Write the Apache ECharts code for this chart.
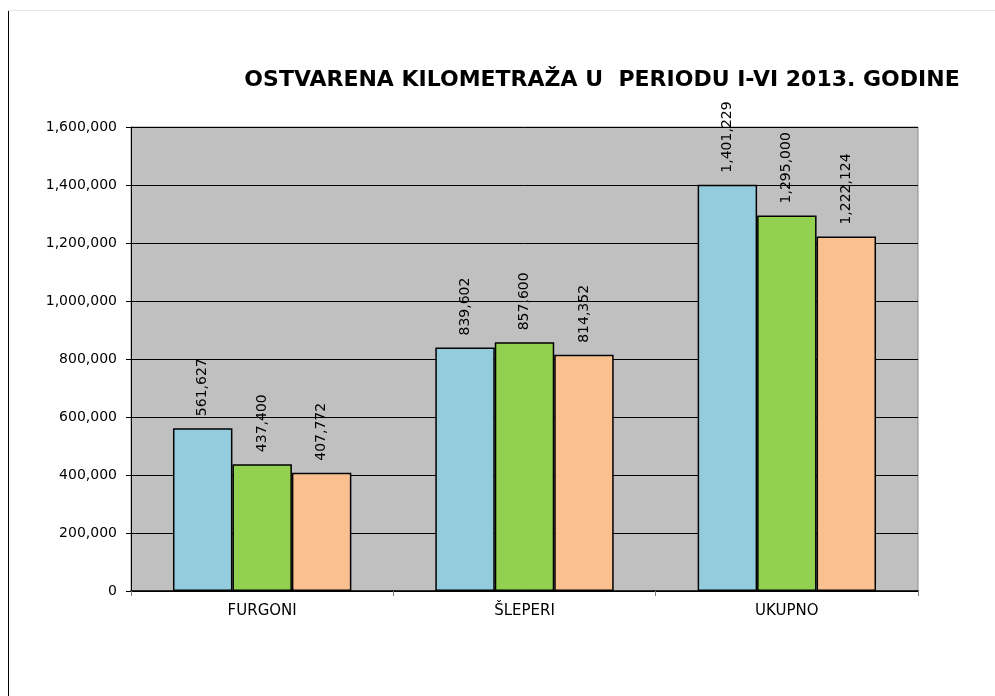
<!DOCTYPE html>
<html>
<head>
<meta charset="utf-8">
<script src="https://cdn.jsdelivr.net/npm/echarts@6/dist/echarts.min.js"></script>
<style>
  html, body { margin: 0; padding: 0; background: #fff; }
  #main { width: 995px; height: 696px; }
</style>
</head>
<body>
<div id="main"></div>
<script>
// podaci
const categories = ['FURGONI', 'ŠLEPERI', 'UKUPNO']
const serijaA = [561627, 839602, 1401229]
const serijaB = [437400, 857600, 1295000]
const serijaC = [407772, 814352, 1222124]
const boje = ['#93CDDD', '#92D050', '#FAC090']

const fmt = v => v.toLocaleString('en-US')
const font = 'DejaVu Sans, Verdana, sans-serif'

const chart = echarts.init(document.getElementById('main'))

function serija(data, color) {
    return {
        type: 'bar',
        data: data,
        barGap: '0%',
        barCategoryGap: '32%',
        itemStyle: { color: color, borderColor: '#000', borderWidth: 1.5 },
        label: {
            show: true,
            position: 'top',
            rotate: 90,
            align: 'left',
            verticalAlign: 'middle',
            distance: 12,
            color: '#000',
            fontFamily: font,
            fontSize: 14,
            formatter: p => fmt(p.value)
        }
    }
}

chart.setOption({
    animation: false,
    title: {
        text: 'OSTVARENA KILOMETRAŽA U  PERIODU I-VI 2013. GODINE',
        left: 597,
        top: 64,
        textAlign: 'center',
        textStyle: { fontFamily: font, fontSize: 22, fontWeight: 'bold', color: '#000' }
    },
    grid: {
        left: 131, right: 77, top: 127, bottom: 105,
        show: true,
        backgroundColor: '#c0c0c0',
        borderColor: '#8c8c8c',
        borderWidth: 1
    },
    xAxis: {
        type: 'category',
        data: categories,
        axisLine: { lineStyle: { color: '#000', width: 1.5 } },
        axisTick: { show: true, length: 5, lineStyle: { color: '#808080' } },
        axisLabel: { color: '#000', fontFamily: font, fontSize: 15, margin: 13 }
    },
    yAxis: {
        type: 'value',
        min: 0,
        max: 1600000,
        interval: 200000,
        axisLine: { show: true, lineStyle: { color: '#000' } },
        axisTick: { show: true, length: 5, lineStyle: { color: '#000' } },
        splitLine: { lineStyle: { color: '#000', width: 1 } },
        axisLabel: { color: '#000', fontFamily: font, fontSize: 14, margin: 14, formatter: v => fmt(v) }
    },
    series: [
        serija(serijaA, boje[0]),
        serija(serijaB, boje[1]),
        serija(serijaC, boje[2])
    ],
    graphic: [
        { type: 'line', shape: { x1: 8.5, y1: 10, x2: 8.5, y2: 696 }, style: { stroke: '#000', lineWidth: 1 } },
        { type: 'line', shape: { x1: 8, y1: 10.5, x2: 995, y2: 10.5 }, style: { stroke: '#e6e6e6', lineWidth: 1 } }
    ]
})
</script>
</body>
</html>
